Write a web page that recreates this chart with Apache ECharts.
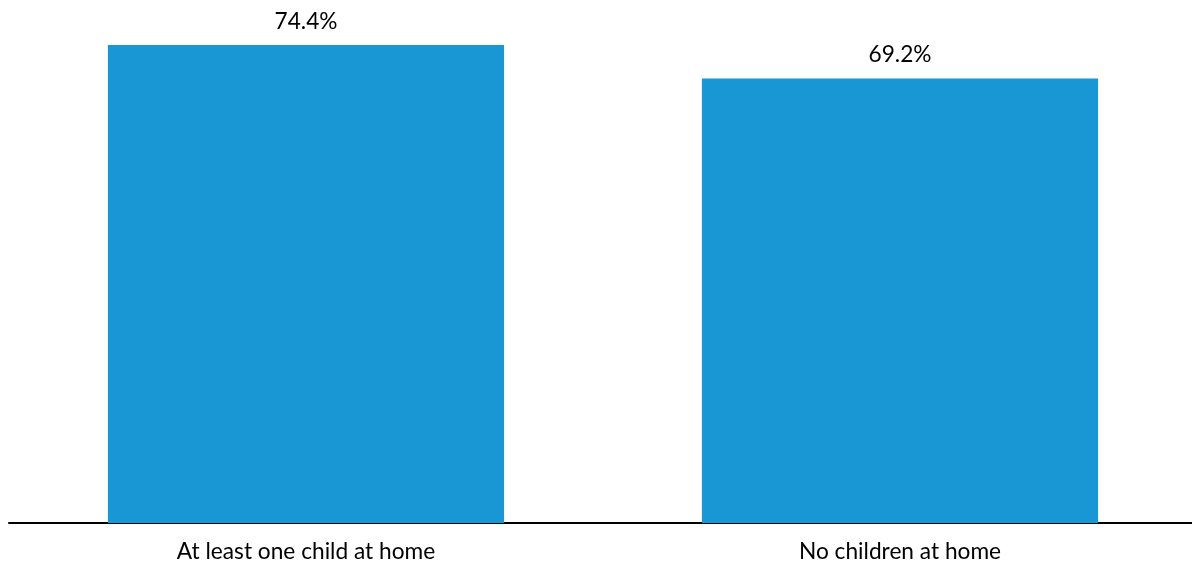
<!DOCTYPE html>
<html>
<head>
<meta charset="utf-8">
<script src="https://cdn.jsdelivr.net/npm/echarts@6/dist/echarts.min.js"></script>
<style>
html,body{margin:0;padding:0;background:#fff;}
#chart{width:1192px;height:565px;}
</style>
</head>
<body>
<div id="chart"></div>
<script>
const categories = ["At least one child at home", "No children at home"];
const values = [74.4, 69.2];

const chart = echarts.init(document.getElementById('chart'), null, {renderer: 'canvas'});
chart.setOption({
  animation: false,
  grid: {left: 9, right: -5, top: 9, bottom: 42, containLabel: false, outerBoundsMode: 'none'},
  xAxis: {
    type: 'category',
    data: categories,
    axisLine: {show: true, lineStyle: {color: '#000', width: 2}},
    axisTick: {show: false},
    axisLabel: {fontFamily: 'Lato', fontSize: 22.7, color: '#000', margin: 17}
  },
  yAxis: {
    type: 'value',
    min: 0,
    max: 80,
    show: false,
    splitLine: {show: false}
  },
  series: [{
    type: 'bar',
    data: values,
    barWidth: '66.7%',
    itemStyle: {color: '#1996d4'},
    label: {
      show: true,
      position: 'top',
      distance: 12,
      fontFamily: 'Lato',
      fontSize: 22.7,
      color: '#000',
      formatter: p => p.value.toFixed(1) + '%'
    }
  }]
});
</script>
</body>
</html>
